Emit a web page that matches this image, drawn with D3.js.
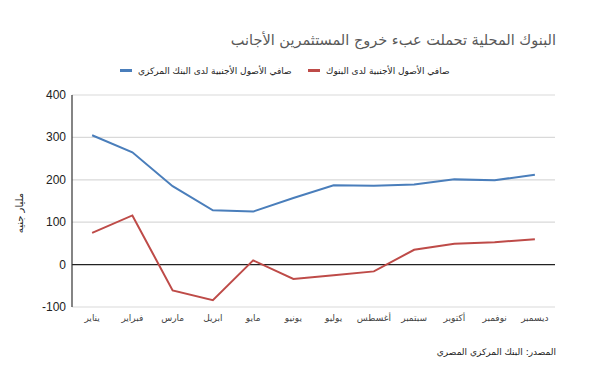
<!DOCTYPE html>
<html>
<head>
<meta charset="utf-8">
<script src="https://cdn.jsdelivr.net/npm/d3@7"></script>
<style>
body { margin: 0; background: #fff; }
svg { display: block; }
</style>
</head>
<body>
<div class="chart"></div>
<script>
var months = ["يناير", "فبراير", "مارس", "ابريل", "مايو", "يونيو", "يوليو", "أغسطس", "سبتمبر", "أكتوبر", "نوفمبر", "ديسمبر"];
var centralBank = [305, 265, 185, 128, 125, 157, 187, 186, 189, 201, 199, 212];
var localBanks = [75, 116, -61, -84, 10, -34, -25, -16, 35, 49, 53, 60];
var yTicks = [-100, 0, 100, 200, 300, 400];
var seriesNames = ["صافي الأصول الأجنبية لدى البنك المركزي", "صافي الأصول الأجنبية لدى البنوك"];
var colors = ["#4a7ebb", "#be4b48"];

var W = 589, H = 375;
var plotLeft = 72, plotRight = 555, plotTop = 95, plotBottom = 307; // "top" is taken by window.top
var arabic = "'DejaVu Sans', sans-serif";

var svg = d3.select(".chart")
			.append("svg")
			.attr("width", W)
			.attr("height", H);

var x = d3.scalePoint()
		  .domain(months)
		  .range([plotLeft, plotRight])
		  .padding(0.5);

var y = d3.scaleLinear()
		  .domain([-100, 400])
		  .range([plotBottom, plotTop]);

// gridlines
svg.selectAll(".grid")
   .data(yTicks)
   .enter()
   .append("line")
   .attr("x1", plotLeft)
   .attr("x2", plotRight)
   .attr("y1", function(d) { return y(d); })
   .attr("y2", function(d) { return y(d); })
   .style("stroke", function(d) { return d == 0 ? "#222" : "#d9d9d9"; })
   .style("stroke-width", 1.2);

// left axis line
svg.append("line")
   .attr("x1", plotLeft).attr("x2", plotLeft)
   .attr("y1", plotTop).attr("y2", plotBottom)
   .style("stroke", "#333")
   .style("stroke-width", 1.2);

// y tick labels
svg.selectAll(".ytick")
   .data(yTicks)
   .enter()
   .append("text")
   .attr("x", plotLeft - 6)
   .attr("y", function(d) { return y(d) + 4; })
   .attr("text-anchor", "end")
   .style("font-family", "'Liberation Sans', Arial, sans-serif")
   .style("font-size", "12px")
   .style("fill", "#222")
   .text(function(d) { return d; });

// x labels
svg.selectAll(".xlab")
   .data(months)
   .enter()
   .append("text")
   .attr("x", function(d) { return x(d); })
   .attr("y", 321)
   .attr("text-anchor", "middle")
   .style("font-family", arabic)
   .style("font-size", "9px")
   .style("fill", "#444")
   .text(function(d) { return d; });

// lines
var line = d3.line()
			 .x(function(d, i) { return x(months[i]); })
			 .y(function(d) { return y(d); });

[centralBank, localBanks].forEach(function(vals, k) {
	svg.append("path")
	   .datum(vals)
	   .attr("d", line)
	   .style("fill", "none")
	   .style("stroke", colors[k])
	   .style("stroke-width", 2);
});

// title
svg.append("text")
   .attr("x", 556)
   .attr("y", 45)
   .attr("text-anchor", "end")
   .style("font-family", arabic)
   .style("font-size", "14.5px")
   .style("fill", "#595959")
   .text("البنوك المحلية تحملت عبء خروج المستثمرين الأجانب");

// legend
var legendX = [120, 308];
seriesNames.forEach(function(name, k) {
	svg.append("rect")
	   .attr("x", legendX[k])
	   .attr("y", 69)
	   .attr("width", 12)
	   .attr("height", 3)
	   .style("fill", colors[k]);
	svg.append("text")
	   .attr("x", legendX[k] + 18)
	   .attr("y", 74)
	   .style("font-family", arabic)
	   .style("font-size", "9px")
	   .style("fill", "#222")
	   .text(name);
});

// y axis title
svg.append("text")
   .attr("transform", "translate(23,213) rotate(-90)")
   .attr("text-anchor", "middle")
   .style("font-family", arabic)
   .style("font-size", "10px")
   .style("fill", "#222")
   .text("مليار جنيه");

// source
svg.append("text")
   .attr("x", 556)
   .attr("y", 355)
   .attr("text-anchor", "end")
   .style("font-family", arabic)
   .style("font-size", "9px")
   .style("fill", "#222")
   .text("المصدر: البنك المركزي المصري");
</script>
</body>
</html>
